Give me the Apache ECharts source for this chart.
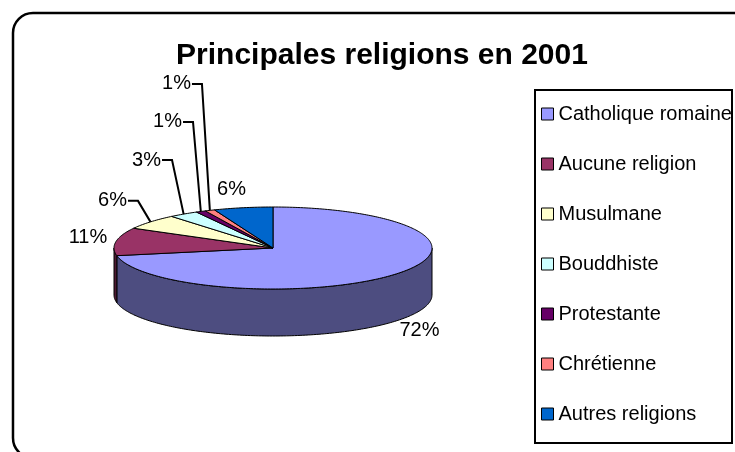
<!DOCTYPE html>
<html>
<head>
<meta charset="utf-8">
<script src="https://cdn.jsdelivr.net/npm/echarts@6/dist/echarts.min.js"></script>
<style>html,body{margin:0;padding:0;background:#fff}#c{width:735px;height:452px}</style>
</head>
<body>
<div id="c"></div>
<script>
// ---- data ----
const categories = ['Catholique romaine', 'Aucune religion', 'Musulmane', 'Bouddhiste', 'Protestante', 'Chrétienne', 'Autres religions'];
const values = [72, 11, 6, 3, 1, 1, 6];
const titleText = 'Principales religions en 2001';

// ---- style / layout ----
const colors = ['#9999FF', '#993366', '#FFFFCC', '#CCFFFF', '#660066', '#FF8080', '#0066CC'];
const FONT = '"Liberation Sans", Arial, sans-serif';
const geo = { cx: 273, cy: 248, rx: 159, ry: 41, depth: 47 };
// label placement relative to the slice's mid-edge point
const labelLayout = [
  { dx: 24, dy: 56 },
  { dx: -28, dy: -4 },
  { elbow: [-12.5, -21] },
  { elbow: [-11.6, -54] },
  { elbow: [-7.8, -89.5] },
  { elbow: [-7.9, -126.4] },
  { dx: -11.7, dy: -18 }
];

const total = values.reduce((a, b) => a + b, 0);
const starts = [];
(function () { let acc = 0; values.forEach(v => { starts.push(acc / total * 360); acc += v; }); })();

function pt(deg, dy) {
  const r = deg * Math.PI / 180;
  return [geo.cx + geo.rx * Math.sin(r), geo.cy - geo.ry * Math.cos(r) + (dy || 0)];
}
function darken(hex, f) {
  const n = parseInt(hex.slice(1), 16);
  const r = Math.round(((n >> 16) & 255) * f), g = Math.round(((n >> 8) & 255) * f), b = Math.round((n & 255) * f);
  return 'rgb(' + r + ',' + g + ',' + b + ')';
}

function makeRender(i) {
  return function (params, api) {
    const v = api.value(0);
    const a1 = starts[i];
    const a2 = a1 + v / total * 360;
    const children = [];
    // side wall (front half only)
    const s = Math.max(a1, 90), e = Math.min(a2, 270);
    if (e > s) {
      const pts = [];
      for (let a = s; a < e; a += 1) pts.push(pt(a));
      pts.push(pt(e));
      for (let a = e; a > s; a -= 1) pts.push(pt(a, geo.depth));
      pts.push(pt(s, geo.depth));
      children.push({ type: 'polygon', z2: 1, shape: { points: pts },
        style: { fill: darken(colors[i], 0.5), stroke: '#000', lineWidth: 1 } });
    }
    // top face
    const top = [[geo.cx, geo.cy]];
    for (let a = a1; a < a2; a += 1) top.push(pt(a));
    top.push(pt(a2));
    children.push({ type: 'polygon', z2: 5, shape: { points: top },
      style: { fill: colors[i], stroke: '#000', lineWidth: 1 } });
    // label
    const mid = pt((a1 + a2) / 2);
    const txt = Math.round(v / total * 100) + '%';
    const L = labelLayout[i];
    if (L.elbow) {
      const ex = mid[0] + L.elbow[0], ey = mid[1] + L.elbow[1];
      children.push({ type: 'polyline', z2: 8, shape: { points: [mid, [ex, ey], [ex - 10, ey]] },
        style: { stroke: '#000', lineWidth: 2, fill: null } });
      children.push({ type: 'text', z2: 9, style: { text: txt, x: ex - 11, y: ey, align: 'right', verticalAlign: 'middle',
        font: '20px ' + FONT, fill: '#000' } });
    } else {
      children.push({ type: 'text', z2: 9, style: { text: txt, x: mid[0] + L.dx, y: mid[1] + L.dy, align: 'center', verticalAlign: 'middle',
        font: '20px ' + FONT, fill: '#000' } });
    }
    return { type: 'group', children: children };
  };
}

const chart = echarts.init(document.getElementById('c'), null, { renderer: 'canvas' });
chart.setOption({
  animation: false,
  backgroundColor: '#fff',
  title: {
    text: titleText, left: 377, top: 36, textAlign: 'center',
    textStyle: { fontFamily: FONT, fontWeight: 'bold', fontSize: 30, lineHeight: 30, color: '#000' }
  },
  graphic: [
    { type: 'rect', shape: { x: 13, y: 13, width: 760, height: 445, r: 20 }, style: { fill: null, stroke: '#000', lineWidth: 2.5 }, z: 0 },
    { type: 'rect', shape: { x: 535, y: 90, width: 197, height: 353 }, style: { fill: null, stroke: '#000', lineWidth: 2 }, z: 0 }
  ],
  legend: {
    orient: 'vertical', left: 541, top: 104, padding: 0,
    itemWidth: 12, itemHeight: 12, itemGap: 30, icon: 'rect', selectedMode: false,
    itemStyle: { borderColor: '#000', borderWidth: 1 },
    textStyle: { fontFamily: FONT, fontSize: 20, lineHeight: 20, color: '#000' },
    data: categories
  },
  series: categories.map((name, i) => ({
    type: 'custom', name: name, coordinateSystem: 'none',
    itemStyle: { color: colors[i] },
    renderItem: makeRender(i),
    data: [values[i]]
  }))
});
</script>
</body>
</html>
